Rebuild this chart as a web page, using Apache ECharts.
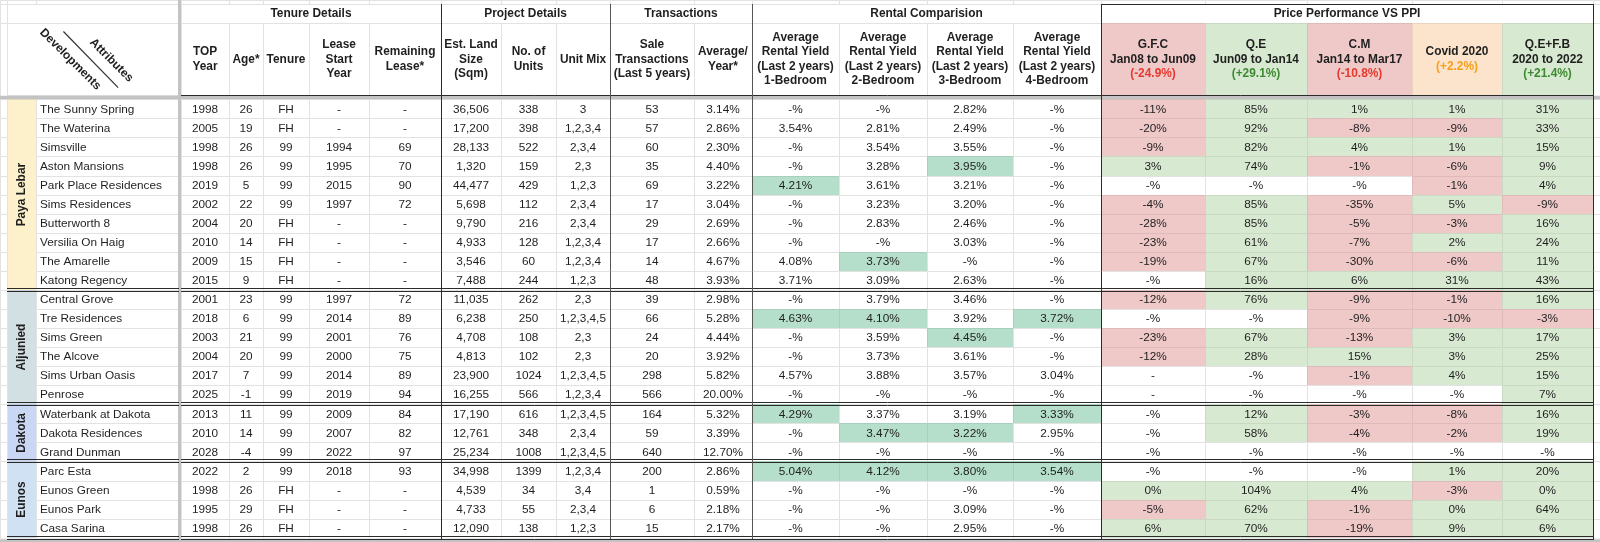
<!DOCTYPE html>
<html><head><meta charset="utf-8">
<script src="https://cdn.jsdelivr.net/npm/echarts@6/dist/echarts.min.js"></script>
<style>html,body{margin:0;padding:0;background:#fff}#c{width:1600px;height:542px}</style>
</head><body><div id="c"></div>
<script>
// ================= DATA =================
const groups = ['Paya Lebar', 'Aljunied', 'Dakota', 'Eunos'];
const groupSizes = [10, 6, 3, 4];
const developments = ['The Sunny Spring','The Waterina','Simsville','Aston Mansions','Park Place Residences','Sims Residences','Butterworth 8','Versilia On Haig','The Amarelle','Katong Regency',
  'Central Grove','Tre Residences','Sims Green','The Alcove','Sims Urban Oasis','Penrose',
  'Waterbank at Dakota','Dakota Residences','Grand Dunman',
  'Parc Esta','Eunos Green','Eunos Park','Casa Sarina'];
const topYear = [1998,2005,1998,1998,2019,2002,2004,2010,2009,2015, 2001,2018,2003,2004,2017,2025, 2013,2010,2028, 2022,1998,1995,1998];
const age = [26,19,26,26,5,22,20,14,15,9, 23,6,21,20,7,-1, 11,14,-4, 2,26,29,26];
const tenure = ['FH','FH','99','99','99','99','FH','FH','FH','FH', '99','99','99','99','99','99', '99','99','99', '99','FH','FH','FH'];
const leaseStart = [null,null,1994,1995,2015,1997,null,null,null,null, 1997,2014,2001,2000,2014,2019, 2009,2007,2022, 2018,null,null,null];
const remainingLease = [null,null,69,70,90,72,null,null,null,null, 72,89,76,75,89,94, 84,82,97, 93,null,null,null];
const landSize = [36506,17200,28133,1320,44477,5698,9790,4933,3546,7488, 11035,6238,4708,4813,23900,16255, 17190,12761,25234, 34998,4539,4733,12090];
const units = [338,398,522,159,429,112,216,128,60,244, 262,250,108,102,1024,566, 616,348,1008, 1399,34,55,138];
const unitMix = ['3','1,2,3,4','2,3,4','2,3','1,2,3','2,3,4','2,3,4','1,2,3,4','1,2,3,4','1,2,3', '2,3','1,2,3,4,5','2,3','2,3','1,2,3,4,5','1,2,3,4', '1,2,3,4,5','2,3,4','1,2,3,4,5', '1,2,3,4','3,4','2,3,4','1,2,3'];
const saleTx = [53,57,60,35,69,17,29,17,14,48, 39,66,24,20,298,566, 164,59,640, 200,1,6,15];
const avgPerYear = [3.14,2.86,2.30,4.40,3.22,3.04,2.69,2.66,4.67,3.93, 2.98,5.28,4.44,3.92,5.82,20.00, 5.32,3.39,12.70, 2.86,0.59,2.18,2.17];
const rent1Bed = [null,3.54,null,null,4.21,null,null,null,4.08,3.71, null,4.63,null,null,4.57,null, 4.29,null,null, 5.04,null,null,null];
const rent2Bed = [null,2.81,3.54,3.28,3.61,3.23,2.83,null,3.73,3.09, 3.79,4.10,3.59,3.73,3.88,null, 3.37,3.47,null, 4.12,null,null,null];
const rent3Bed = [2.82,2.49,3.55,3.95,3.21,3.20,2.46,3.03,null,2.63, 3.46,3.92,4.45,3.61,3.57,null, 3.19,3.22,null, 3.80,null,3.09,2.95];
const rent4Bed = [null,null,null,null,null,null,null,null,null,null, null,3.72,null,null,3.04,null, 3.33,2.95,null, 3.54,null,null,null];
const perfGFC = ['-11%','-20%','-9%','3%','-%','-4%','-28%','-23%','-19%','-%', '-12%','-%','-23%','-12%','-','-', '-%','-%','-%', '-%','0%','-5%','6%'];
const perfQE = ['85%','92%','82%','74%','-%','85%','85%','61%','67%','16%', '76%','-%','67%','28%','-%','-%', '12%','58%','-%', '-%','104%','62%','70%'];
const perfCM = ['1%','-8%','4%','-1%','-%','-35%','-5%','-7%','-30%','6%', '-9%','-9%','-13%','15%','-1%','-%', '-3%','-4%','-%', '-%','4%','-1%','-19%'];
const perfCovid = ['1%','-9%','1%','-6%','-1%','5%','-3%','2%','-6%','31%', '-1%','-10%','3%','3%','4%','-%', '-8%','-2%','-%', '1%','-3%','0%','9%'];
const perfQEFB = ['31%','33%','15%','9%','4%','-9%','16%','24%','11%','43%', '16%','-3%','17%','25%','15%','7%', '16%','19%','-%', '20%','0%','64%','6%'];

const sectionTitles = ['Tenure Details','Project Details','Transactions','Rental Comparision','Price Performance VS PPI'];
const sectionSpans = [5, 3, 2, 4, 5];
const columnHeaders = ['TOP\nYear','Age*','Tenure','Lease\nStart\nYear','Remaining\nLease*','Est. Land\nSize\n(Sqm)','No. of\nUnits','Unit Mix','Sale\nTransactions\n(Last 5 years)','Average/\nYear*',
  'Average\nRental Yield\n(Last 2 years)\n1-Bedroom','Average\nRental Yield\n(Last 2 years)\n2-Bedroom','Average\nRental Yield\n(Last 2 years)\n3-Bedroom','Average\nRental Yield\n(Last 2 years)\n4-Bedroom'];
const periods = ['G.F.C','Q.E','C.M','Covid 2020','Q.E+F.B'];
const periodRanges = ['Jan08 to Jun09','Jun09 to Jan14','Jan14 to Mar17','','2020 to 2022'];
const ppiChange = [-24.9, 29.1, -10.8, 2.2, 21.4];
const cornerLabels = ['Developments', 'Attributes'];

// ================= LAYOUT / STYLE =================
const COL_EDGES = [0,7,36,178,181,229,263,309,369,441,501,556,610,694,752,839,927,1013,1101,1205,1307,1412,1502,1593,1600];
const HEAD_ROWS = [0, 4.3, 22.7, 95, 99.3];
const DATA_TOP = 99.3, ROW_H = 19.06;
const FIRST_DATA_COL = 4;
const FONT_FAMILY = '"Liberation Sans", Arial, Helvetica, sans-serif';
const DATA_FONT = '11.8px ' + FONT_FAMILY;
const HEAD_FONT = 'bold 11.9px ' + FONT_FAMILY;
const TEXT_COLOR = '#1f1f1f';
const GROUP_FILLS = ['#fdf1cb', '#d2dfe3', '#c9d7f4', '#cfe1f2'];
const PINK = '#efc8c8', LIGHT_GREEN = '#d8e9d1', HIGHLIGHT = '#b5dfcb', ORANGE_FILL = '#fce4cc';
const HEADER_FILLS = [PINK, LIGHT_GREEN, PINK, ORANGE_FILL, LIGHT_GREEN];
const HEADER_TINTS = ['#e63a2e', '#3d8a31', '#e63a2e', '#f5a01c', '#3d8a31'];
const FREEZE_GRAY = '#c3c3c3', BORDER = '#2b2b2b';

const nRows = developments.length;
const rowTop = i => DATA_TOP + i * ROW_H;
const groupStart = []; { let s = 0; groupSizes.forEach(n => { groupStart.push(s); s += n; }); }
const groupOf = i => { let g = 0; while (g + 1 < groupStart.length && i >= groupStart[g + 1]) g++; return g; };

// ---------- build cells ----------
const cells = [];
function addCell(c0, c1, y0, y1, o) { cells.push(Object.assign({ x0: COL_EDGES[c0], x1: COL_EDGES[c1], y0: y0, y1: y1 }, o || {})); }
const lastCol = COL_EDGES.length - 1;

for (let c = 0; c < lastCol; c++) if (c !== 3) addCell(c, c + 1, HEAD_ROWS[0], HEAD_ROWS[1], {});
addCell(0, 1, HEAD_ROWS[1], HEAD_ROWS[2], {});
addCell(1, 3, HEAD_ROWS[1], HEAD_ROWS[2], {});
{ let c = FIRST_DATA_COL; sectionTitles.forEach((t, k) => { addCell(c, c + sectionSpans[k], HEAD_ROWS[1], HEAD_ROWS[2], { text: t, font: HEAD_FONT }); c += sectionSpans[k]; }); }
addCell(lastCol - 1, lastCol, HEAD_ROWS[1], HEAD_ROWS[2], {});
addCell(0, 1, HEAD_ROWS[2], HEAD_ROWS[4], {});
addCell(1, 3, HEAD_ROWS[2], HEAD_ROWS[3], { corner: true });
columnHeaders.forEach((t, k) => addCell(FIRST_DATA_COL + k, FIRST_DATA_COL + k + 1, HEAD_ROWS[2], HEAD_ROWS[3], { text: t, font: HEAD_FONT, lineHeight: 14.3 }));
periods.forEach((p, k) => {
  const c = FIRST_DATA_COL + columnHeaders.length + k;
  const ch = '(' + (ppiChange[k] > 0 ? '+' : '') + ppiChange[k].toFixed(1) + '%)';
  const lines = [p]; if (periodRanges[k]) lines.push(periodRanges[k]); lines.push('{t|' + ch + '}');
  addCell(c, c + 1, HEAD_ROWS[2], HEAD_ROWS[3], { text: lines.join('\n'), font: HEAD_FONT, lineHeight: 14.6, fill: HEADER_FILLS[k],
    rich: { t: { fill: HEADER_TINTS[k], font: HEAD_FONT, lineHeight: 14.6 } } });
});
addCell(lastCol - 1, lastCol, HEAD_ROWS[2], HEAD_ROWS[4], {});

groups.forEach((g, k) => addCell(1, 2, rowTop(groupStart[k]), rowTop(groupStart[k] + groupSizes[k]), { text: g, font: HEAD_FONT, fill: GROUP_FILLS[k], rotate: true }));

const pct = v => v == null ? '-%' : v.toFixed(2) + '%';
const dash = v => v == null ? '-' : String(v);
const dataColumns = [
  { vals: topYear, fmt: String }, { vals: age, fmt: String }, { vals: tenure, fmt: String },
  { vals: leaseStart, fmt: dash }, { vals: remainingLease, fmt: dash },
  { vals: landSize, fmt: v => v.toLocaleString('en-US') }, { vals: units, fmt: String }, { vals: unitMix, fmt: String },
  { vals: saleTx, fmt: String }, { vals: avgPerYear, fmt: v => v.toFixed(2) + '%' },
  { vals: rent1Bed, fmt: pct, best: true }, { vals: rent2Bed, fmt: pct, best: true }, { vals: rent3Bed, fmt: pct, best: true }, { vals: rent4Bed, fmt: pct, best: true },
  { vals: perfGFC, fmt: String, perf: true }, { vals: perfQE, fmt: String, perf: true }, { vals: perfCM, fmt: String, perf: true },
  { vals: perfCovid, fmt: String, perf: true }, { vals: perfQEFB, fmt: String, perf: true }
];
function groupMax(vals, g) { let m = null; for (let i = groupStart[g]; i < groupStart[g] + groupSizes[g]; i++) if (vals[i] != null && (m == null || vals[i] > m)) m = vals[i]; return m; }
for (let i = 0; i < nRows; i++) {
  const y0 = rowTop(i), y1 = rowTop(i + 1);
  addCell(0, 1, y0, y1, {});
  addCell(2, 3, y0, y1, { text: developments[i], align: 'left' });
  dataColumns.forEach((col, k) => {
    const v = col.vals[i];
    let fill = null;
    if (col.best && v != null && v === groupMax(col.vals, groupOf(i))) fill = HIGHLIGHT;
    if (col.perf && v !== '-%' && v !== '-') fill = parseFloat(v) < 0 ? PINK : LIGHT_GREEN;
    addCell(FIRST_DATA_COL + k, FIRST_DATA_COL + k + 1, y0, y1, { text: col.fmt(v), fill: fill });
  });
  addCell(lastCol - 1, lastCol, y0, y1, {});
}
addCell(0, lastCol, rowTop(nRows), 542, { fill: '#ffffff' });

// ---------- border / separator items ----------
const X = c => COL_EDGES[c];
const borders = [];
const bottomY = rowTop(nRows);
borders.push({ kind: 'band', x0: X(3), x1: X(4), y0: 0, y1: 542 });
borders.push({ kind: 'band', x0: 0, x1: 1600, y0: HEAD_ROWS[3] + 0.8, y1: HEAD_ROWS[4] });
borders.push({ kind: 'band', x0: 0, x1: 1600, y0: bottomY + 1.5, y1: 542 });
borders.push({ kind: 'h', x0: X(4), x1: X(lastCol - 1), y: HEAD_ROWS[3] });
borders.push({ kind: 'h', x0: X(18), x1: X(lastCol - 1), y: HEAD_ROWS[1] });
groupStart.slice(1).concat([nRows]).forEach(r => {
  const y = rowTop(r);
  [[X(1), X(3)], [X(4), X(lastCol - 1)]].forEach(s => borders.push({ kind: 'hh', x0: s[0], x1: s[1], y: y }));
});
[9, 12, 14, 18, lastCol - 1].forEach(c => borders.push({ kind: 'v', x: X(c), y0: HEAD_ROWS[1], y1: bottomY, color: (c === 12 || c === 14) ? '#555' : BORDER }));

// ================= CHART =================
function darken(hex, f) {
  const n = parseInt(hex.slice(1), 16); const r = (n >> 16) & 255, g = (n >> 8) & 255, b = n & 255;
  return 'rgb(' + [r, g, b].map(v => Math.round(v * (1 - f))).join(',') + ')';
}
function cellRender(params, api) {
  const c = cells[api.value(4)];
  const p0 = api.coord([api.value(0), api.value(2)]);
  const p1 = api.coord([api.value(1), api.value(3)]);
  const x = Math.round(Math.min(p0[0], p1[0])), y = Math.round(Math.min(p0[1], p1[1]));
  const w = Math.round(Math.max(p0[0], p1[0])) - x, h = Math.round(Math.max(p0[1], p1[1])) - y;
  const fill = c.fill || '#ffffff';
  const children = [{ type: 'rect', shape: { x: x + 0.5, y: y + 0.5, width: w, height: h },
    style: { fill: fill, stroke: c.fill ? darken(fill, 0.07) : '#e2e2e2', lineWidth: 1 } }];
  const cx = (Math.min(p0[0], p1[0]) + Math.max(p0[0], p1[0])) / 2;
  const cy = (Math.min(p0[1], p1[1]) + Math.max(p0[1], p1[1])) / 2;
  if (c.corner) {
    const fs = { font: HEAD_FONT, fill: TEXT_COLOR, align: 'center', verticalAlign: 'middle', textAlign: 'center', textVerticalAlign: 'middle' };
    children.push({ type: 'text', x: cx - 0.13 * w, y: cy + 0.5, rotation: -Math.PI / 4, style: Object.assign({ text: cornerLabels[0] }, fs) });
    children.push({ type: 'text', x: cx + 0.11 * w, y: cy + 1.5, rotation: -Math.PI / 4, style: Object.assign({ text: cornerLabels[1] }, fs) });
    children.push({ type: 'line', shape: { x1: cx - 0.17 * w, y1: cy - 0.38 * h, x2: cx + 0.15 * w, y2: cy + 0.40 * h }, style: { stroke: '#333', lineWidth: 1.2 } });
  } else if (c.text != null) {
    const st = { text: c.text, font: c.font || DATA_FONT, fill: TEXT_COLOR, verticalAlign: 'middle', textVerticalAlign: 'middle',
      align: c.align === 'left' ? 'left' : 'center', textAlign: c.align === 'left' ? 'left' : 'center' };
    if (c.lineHeight) st.lineHeight = c.lineHeight;
    if (c.rich) st.rich = c.rich;
    if (c.rotate) children.push({ type: 'text', x: cx + 0.5, y: cy, rotation: Math.PI / 2, style: st });
    else children.push({ type: 'text', x: c.align === 'left' ? x + 4 : cx, y: cy + 0.5, style: st });
  }
  return { type: 'group', children: children };
}
function borderRender(params, api) {
  const b = borders[api.value(0)];
  if (b.kind === 'band') {
    const p0 = api.coord([b.x0, b.y0]), p1 = api.coord([b.x1, b.y1]);
    return { type: 'rect', shape: { x: p0[0], y: Math.min(p0[1], p1[1]), width: p1[0] - p0[0], height: Math.abs(p1[1] - p0[1]) }, style: { fill: FREEZE_GRAY } };
  }
  if (b.kind === 'v') {
    const p0 = api.coord([b.x, b.y0]), p1 = api.coord([b.x, b.y1]);
    const x = Math.round(p0[0]) + 0.5;
    return { type: 'line', shape: { x1: x, y1: Math.round(p0[1]), x2: x, y2: Math.round(p1[1]) + 1 }, style: { stroke: b.color, lineWidth: 1 } };
  }
  const p0 = api.coord([b.x0, b.y]), p1 = api.coord([b.x1, b.y]);
  const y = Math.round(p0[1]);
  if (b.kind === 'hh') {
    return { type: 'group', children: [
      { type: 'line', shape: { x1: p0[0], y1: y - 1.5, x2: p1[0] + 1, y2: y - 1.5 }, style: { stroke: BORDER, lineWidth: 1 } },
      { type: 'line', shape: { x1: p0[0], y1: y + 1.5, x2: p1[0] + 1, y2: y + 1.5 }, style: { stroke: BORDER, lineWidth: 1 } }] };
  }
  return { type: 'line', shape: { x1: p0[0], y1: y + 0.5, x2: p1[0] + 1, y2: y + 0.5 }, style: { stroke: BORDER, lineWidth: 1 } };
}

const chart = echarts.init(document.getElementById('c'), null, { renderer: 'canvas' });
chart.setOption({
  animation: false,
  backgroundColor: '#ffffff',
  grid: { left: 0, right: 0, top: 0, bottom: 0, containLabel: false },
  xAxis: { type: 'value', min: 0, max: 1600, show: false },
  yAxis: { type: 'value', min: 0, max: 542, inverse: true, show: false },
  series: [
    { type: 'custom', renderItem: cellRender, clip: false, silent: true,
      encode: { x: [0, 1], y: [2, 3] },
      data: cells.map((c, i) => [c.x0, c.x1, c.y0, c.y1, i]) },
    { type: 'custom', renderItem: borderRender, clip: false, silent: true, z: 5,
      encode: { x: 1, y: 2 },
      data: borders.map((b, i) => [i, 0, 0]) }
  ]
});
</script></body></html>
